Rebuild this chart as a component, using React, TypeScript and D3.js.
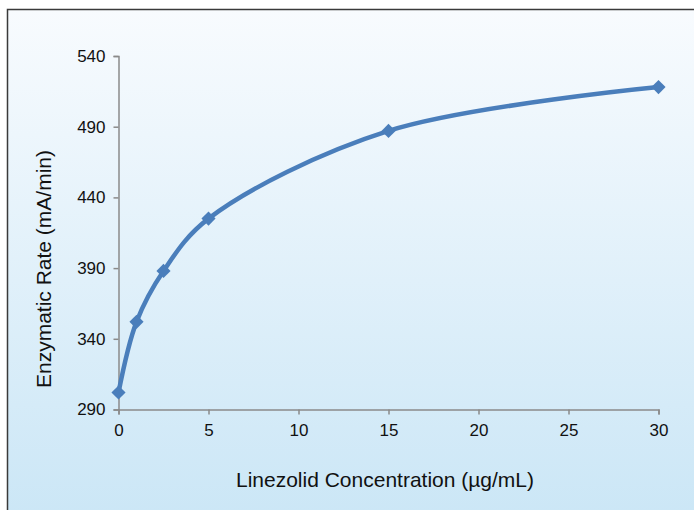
import React, { useEffect, useRef } from 'react';
import * as d3 from 'd3';

const concentrations = [0, 1, 2.5, 5, 15, 30];
const rates = [302, 352, 388, 425, 487, 518];
const xTicks = [0, 5, 10, 15, 20, 25, 30];
const yTicks = [290, 340, 390, 440, 490, 540];

const width = 694;
const height = 510;

const marginLeft = 118.5;
const marginRight = 35;
const marginTop = 56;
const marginBottom = 100.5;

const font = "'Liberation Sans', Arial, sans-serif";

const App: React.FC = () => {
    const svgRef = useRef<SVGSVGElement | null>(null);

    useEffect(() => {
        const svg = d3.select(svgRef.current);
        svg.selectAll('*').remove();

        const grad = svg.append('defs').append('linearGradient')
            .attr('id', 'bg')
            .attr('x1', 0).attr('y1', 0).attr('x2', 0).attr('y2', 1);
        grad.append('stop').attr('offset', '0%').attr('stop-color', '#f8fbfe');
        grad.append('stop').attr('offset', '100%').attr('stop-color', '#cae6f6');

        svg.append('rect')
            .attr('x', 7.5).attr('y', 9.5)
            .attr('width', width + 10).attr('height', height + 10)
            .attr('fill', 'url(#bg)')
            .attr('stroke', '#3a3a3a')
            .attr('stroke-width', 1.5);

        const x = d3.scaleLinear().domain([0, 30]).range([marginLeft, width - marginRight - 0.5]);
        const y = d3.scaleLinear().domain([290, 540]).range([height - marginBottom, marginTop]);

        const xAxis = svg.append('g')
            .attr('transform', `translate(0, ${y(290)})`)
            .call(d3.axisBottom(x).tickValues(xTicks).tickSize(5).tickSizeOuter(5).tickPadding(9));
        const yAxis = svg.append('g')
            .attr('transform', `translate(${x(0)}, 0)`)
            .call(d3.axisLeft(y).tickValues(yTicks).tickSize(5).tickSizeOuter(5).tickPadding(8));

        [xAxis, yAxis].forEach(g => {
            g.select('.domain').attr('stroke', '#8a8a8a').attr('stroke-width', 1.5);
            g.selectAll('.tick line').attr('stroke', '#8a8a8a').attr('stroke-width', 1.5);
            g.selectAll('.tick text')
                .attr('fill', '#111')
                .style('font-family', font)
                .style('font-size', '17px');
        });

        const points = concentrations.map((c, i) => [c, rates[i]] as [number, number]);

        const line = d3.line<[number, number]>()
            .x(d => x(d[0]))
            .y(d => y(d[1]))
            .curve(d3.curveCatmullRom.alpha(0.5));

        svg.append('path')
            .datum(points)
            .attr('fill', 'none')
            .attr('stroke', '#4a7ebb')
            .attr('stroke-width', 4.5)
            .attr('stroke-linejoin', 'round')
            .attr('d', line);

        const marker = d3.symbol().type(d3.symbolSquare).size(100);
        svg.append('g')
            .selectAll('path')
            .data(points)
            .join('path')
            .attr('transform', d => `translate(${x(d[0])}, ${y(d[1])}) rotate(45)`)
            .attr('d', marker)
            .attr('fill', '#4a7ebb');

        svg.append('text')
            .attr('x', 385)
            .attr('y', 487)
            .attr('text-anchor', 'middle')
            .attr('fill', '#111')
            .style('font-family', font)
            .style('font-size', '21px')
            .text('Linezolid Concentration (µg/mL)');

        svg.append('text')
            .attr('transform', `translate(51, 269) rotate(-90)`)
            .attr('text-anchor', 'middle')
            .attr('fill', '#111')
            .style('font-family', font)
            .style('font-size', '21px')
            .text('Enzymatic Rate (mA/min)');
    }, []);

    return (
        <svg
            ref={svgRef}
            width={width}
            height={height}
            viewBox={`0 0 ${width} ${height}`}
            style={{ position: 'absolute', left: 0, top: 0, background: '#fff' }}
        />
    );
};

export default App;
